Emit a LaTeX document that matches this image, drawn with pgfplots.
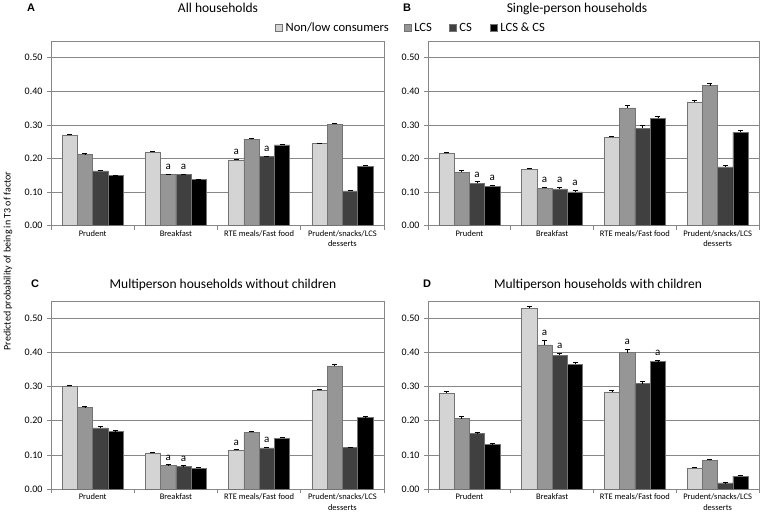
\documentclass[border=0pt]{standalone}
\usepackage{fontspec}
\setmainfont{Carlito}
\newfontfamily\arialfont{Liberation Sans}
\usepackage{pgfplots}
\usepackage{pgfplotstable}
\pgfplotsset{compat=1.18}

\definecolor{cLight}{RGB}{212,212,212}
\definecolor{cMid}{RGB}{150,150,150}
\definecolor{cDark}{RGB}{64,64,64}
\definecolor{cBlack}{RGB}{0,0,0}
\definecolor{cAxis}{RGB}{135,135,135}

\pgfplotstableread{
x n ne na l le la c ce ca b be ba
0 0.270 0.002 {} 0.211 0.003 {} 0.163 0.002 {} 0.149 0.002 {}
1 0.219 0.002 {} 0.152 0.002 a 0.152 0.002 a 0.137 0.002 {}
2 0.196 0.002 a 0.257 0.003 {} 0.205 0.002 a 0.240 0.002 {}
3 0.244 0.002 {} 0.302 0.003 {} 0.103 0.002 {} 0.177 0.002 {}
}\tabA
\pgfplotstableread{
x n ne na l le la c ce ca b be ba
0 0.215 0.004 {} 0.159 0.005 {} 0.126 0.005 a 0.117 0.004 a
1 0.168 0.004 {} 0.111 0.004 a 0.109 0.005 a 0.100 0.005 a
2 0.263 0.004 {} 0.351 0.008 {} 0.290 0.008 {} 0.319 0.007 {}
3 0.367 0.005 {} 0.417 0.008 {} 0.175 0.005 {} 0.278 0.006 {}
}\tabB
\pgfplotstableread{
x n ne na l le la c ce ca b be ba
0 0.300 0.003 {} 0.238 0.004 {} 0.179 0.003 {} 0.169 0.002 {}
1 0.106 0.002 {} 0.069 0.002 a 0.066 0.002 a 0.061 0.002 {}
2 0.114 0.002 a 0.166 0.003 {} 0.120 0.002 a 0.148 0.003 {}
3 0.289 0.003 {} 0.360 0.005 {} 0.121 0.002 {} 0.209 0.003 {}
}\tabC
\pgfplotstableread{
x n ne na l le la c ce ca b be ba
0 0.281 0.004 {} 0.206 0.008 {} 0.162 0.003 {} 0.131 0.002 {}
1 0.529 0.005 {} 0.422 0.013 a 0.391 0.007 a 0.365 0.005 {}
2 0.284 0.005 {} 0.399 0.010 a 0.308 0.006 {} 0.373 0.005 a
3 0.062 0.002 {} 0.084 0.004 {} 0.018 0.001 {} 0.038 0.002 {}
}\tabD

\pgfplotsset{
  panel/.style={
    scale only axis,
    ybar=0pt, bar width=15.3pt,
    xmin=-0.5, xmax=3.5, ymin=0, ymax=0.55,
    xtick={0,1,2,3},
    xticklabels={Prudent,Breakfast,RTE meals/Fast food,{Prudent/snacks/LCS\\desserts}},
    minor xtick={-0.5,0.5,1.5,2.5,3.5},
    major x tick style={draw=none},
    ytick={0,0.1,0.2,0.3,0.4,0.5},
    tick pos=left, tick align=outside,
    major tick length=4pt, minor tick length=4pt,
    tick style={cAxis, line width=0.6pt},
    ymajorgrids, grid style={cAxis, line width=0.6pt},
    axis line style={cAxis, line width=0.6pt},
    /pgf/number format/.cd, fixed, fixed zerofill, precision=2, assume math mode=true,
    /pgfplots/.cd,
    yticklabel style={font=\fontsize{10}{12}\selectfont, xshift=-1pt},
    xticklabel style={font=\fontsize{8.5}{10.5}\selectfont, align=center, yshift=2.5pt},
    nodes near coords, point meta=explicit symbolic,
    every node near coord/.append style={font=\fontsize{11}{12}\selectfont, inner sep=1pt, anchor=south, yshift=3pt},
    every axis plot post/.append style={
      legend image code/.code={\draw[##1, draw=black!55, line width=0.5pt] (0pt,-3.5pt) rectangle (7pt,3.5pt);}},
  },
}

\newcommand{\series}[5]{%
  \addplot[fill=#5, draw=black!55, line width=0.5pt,
    visualization depends on={\escale*\thisrow{#3} \as \eshift},
    every node near coord/.append style={yshift=\eshift pt},
    error bars/.cd, y dir=plus, y explicit,
      error bar style={black, line width=0.6pt},
      error mark options={rotate=90, black, mark size=2.5pt, line width=0.6pt}]
    table[x=x, y=#2, y error=#3, meta=#4] {#1};
}

\begin{document}
\begin{tikzpicture}
\useasboundingbox (0pt,0pt) rectangle (760pt,-515pt);

% Panel A
\def\escale{335.5}
\begin{axis}[panel, at={(51pt,-225.5pt)}, anchor=south west, width=333pt, height=184.5pt,
  legend style={at={(axis description cs:0.6727,1.0707)}, anchor=west, draw=none, fill=none,
    inner sep=0pt, font=\fontsize{12.6}{15}\selectfont},
  legend columns=4, legend cell align=left]
  \series{\tabA}{n}{ne}{na}{cLight}\addlegendentry{\hspace*{1pt}Non/low consumers\hspace*{13pt}\null}
  \series{\tabA}{l}{le}{la}{cMid}\addlegendentry{\hspace*{1pt}LCS\hspace*{15pt}\null}
  \series{\tabA}{c}{ce}{ca}{cDark}\addlegendentry{\hspace*{1pt}CS\hspace*{16pt}\null}
  \series{\tabA}{b}{be}{ba}{cBlack}\addlegendentry{\hspace*{1pt}LCS \& CS}
\end{axis}

% Panel B
\begin{axis}[panel, at={(428pt,-225.5pt)}, anchor=south west, width=331pt, height=184.5pt]
  \series{\tabB}{n}{ne}{na}{cLight}
  \series{\tabB}{l}{le}{la}{cMid}
  \series{\tabB}{c}{ce}{ca}{cDark}
  \series{\tabB}{b}{be}{ba}{cBlack}
\end{axis}

% Panel C
\def\escale{341.8}
\begin{axis}[panel, at={(51pt,-489pt)}, anchor=south west, width=333pt, height=188pt]
  \series{\tabC}{n}{ne}{na}{cLight}
  \series{\tabC}{l}{le}{la}{cMid}
  \series{\tabC}{c}{ce}{ca}{cDark}
  \series{\tabC}{b}{be}{ba}{cBlack}
\end{axis}

% Panel D
\begin{axis}[panel, at={(428pt,-489pt)}, anchor=south west, width=331pt, height=188pt]
  \series{\tabD}{n}{ne}{na}{cLight}
  \series{\tabD}{l}{le}{la}{cMid}
  \series{\tabD}{c}{ce}{ca}{cDark}
  \series{\tabD}{b}{be}{ba}{cBlack}
\end{axis}

% Titles and panel letters
\node[anchor=base, font=\fontsize{13.5}{15}\selectfont] at (218pt,-12.7pt) {All households};
\node[anchor=base, font=\fontsize{13.5}{15}\selectfont] at (577pt,-12.7pt) {Single-person households};
\node[anchor=base, font=\fontsize{13.5}{15}\selectfont] at (223pt,-288pt) {Multiperson households without children};
\node[anchor=base, font=\fontsize{13.5}{15}\selectfont] at (598pt,-288pt) {Multiperson households with children};
\node[anchor=base, font=\arialfont\bfseries\fontsize{11}{13}\selectfont] at (31pt,-11pt) {A};
\node[anchor=base, font=\arialfont\bfseries\fontsize{11}{13}\selectfont] at (407pt,-11pt) {B};
\node[anchor=base, font=\arialfont\bfseries\fontsize{11}{13}\selectfont] at (35pt,-287pt) {C};
\node[anchor=base, font=\arialfont\bfseries\fontsize{11}{13}\selectfont] at (427pt,-287pt) {D};
\node[rotate=90, font=\fontsize{10}{12}\selectfont] at (8pt,-261pt) {Predicted probability of being in T3 of factor};
\end{tikzpicture}
\end{document}
